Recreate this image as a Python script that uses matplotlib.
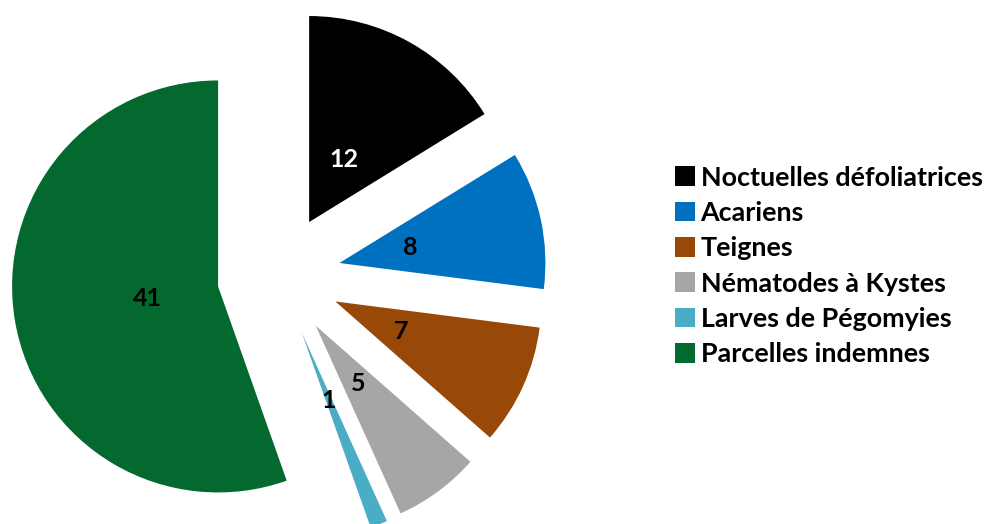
import matplotlib.pyplot as plt
from matplotlib.patches import Patch

labels = ["Noctuelles défoliatrices", "Acariens", "Teignes",
          "Nématodes à Kystes", "Larves de Pégomyies", "Parcelles indemnes"]
values = [12, 8, 7, 5, 1, 41]
colors = ["#000000", "#0070C0", "#984807", "#A6A6A6", "#4BACC6", "#03692F"]
text_colors = ["white", "black", "black", "black", "black", "black"]

plt.rcParams['font.family'] = ['Lato', 'DejaVu Sans']

W, H = 989, 524
fig = plt.figure(figsize=(W / 100, H / 100), dpi=100)

# pie centre at (279, 276) px from top, radius ~206 px
r_px = 206
size = 3 * r_px
cx, cy = 279, H - 276
ax = fig.add_axes([(cx - size / 2) / W, (cy - size / 2) / H, size / W, size / H])

total = sum(values)
wedges, texts, autotexts = ax.pie(
    values, colors=colors, startangle=90, counterclock=False,
    explode=[0.3] * len(values), radius=1.0, pctdistance=0.35,
    autopct=lambda p: f"{round(p * total / 100):d}",
    wedgeprops=dict(linewidth=0))
for t, c in zip(autotexts, text_colors):
    t.set_color(c)
    t.set_fontsize(18)
    t.set_fontweight('bold')
ax.set_xlim(-1.5, 1.5)
ax.set_ylim(-1.5, 1.5)
ax.set_aspect('equal')
ax.axis('off')

handles = [Patch(facecolor=c, edgecolor='none') for c in colors]
fig.legend(handles, labels, loc='center left',
           bbox_to_anchor=(675 / W, 1 - 266 / H), frameon=False,
           prop=dict(size=19.4, weight='bold'),
           handlelength=0.75, handleheight=0.75, handletextpad=0.2,
           labelspacing=0.42, borderaxespad=0, borderpad=0)

fig.savefig("out.png", dpi=100)
